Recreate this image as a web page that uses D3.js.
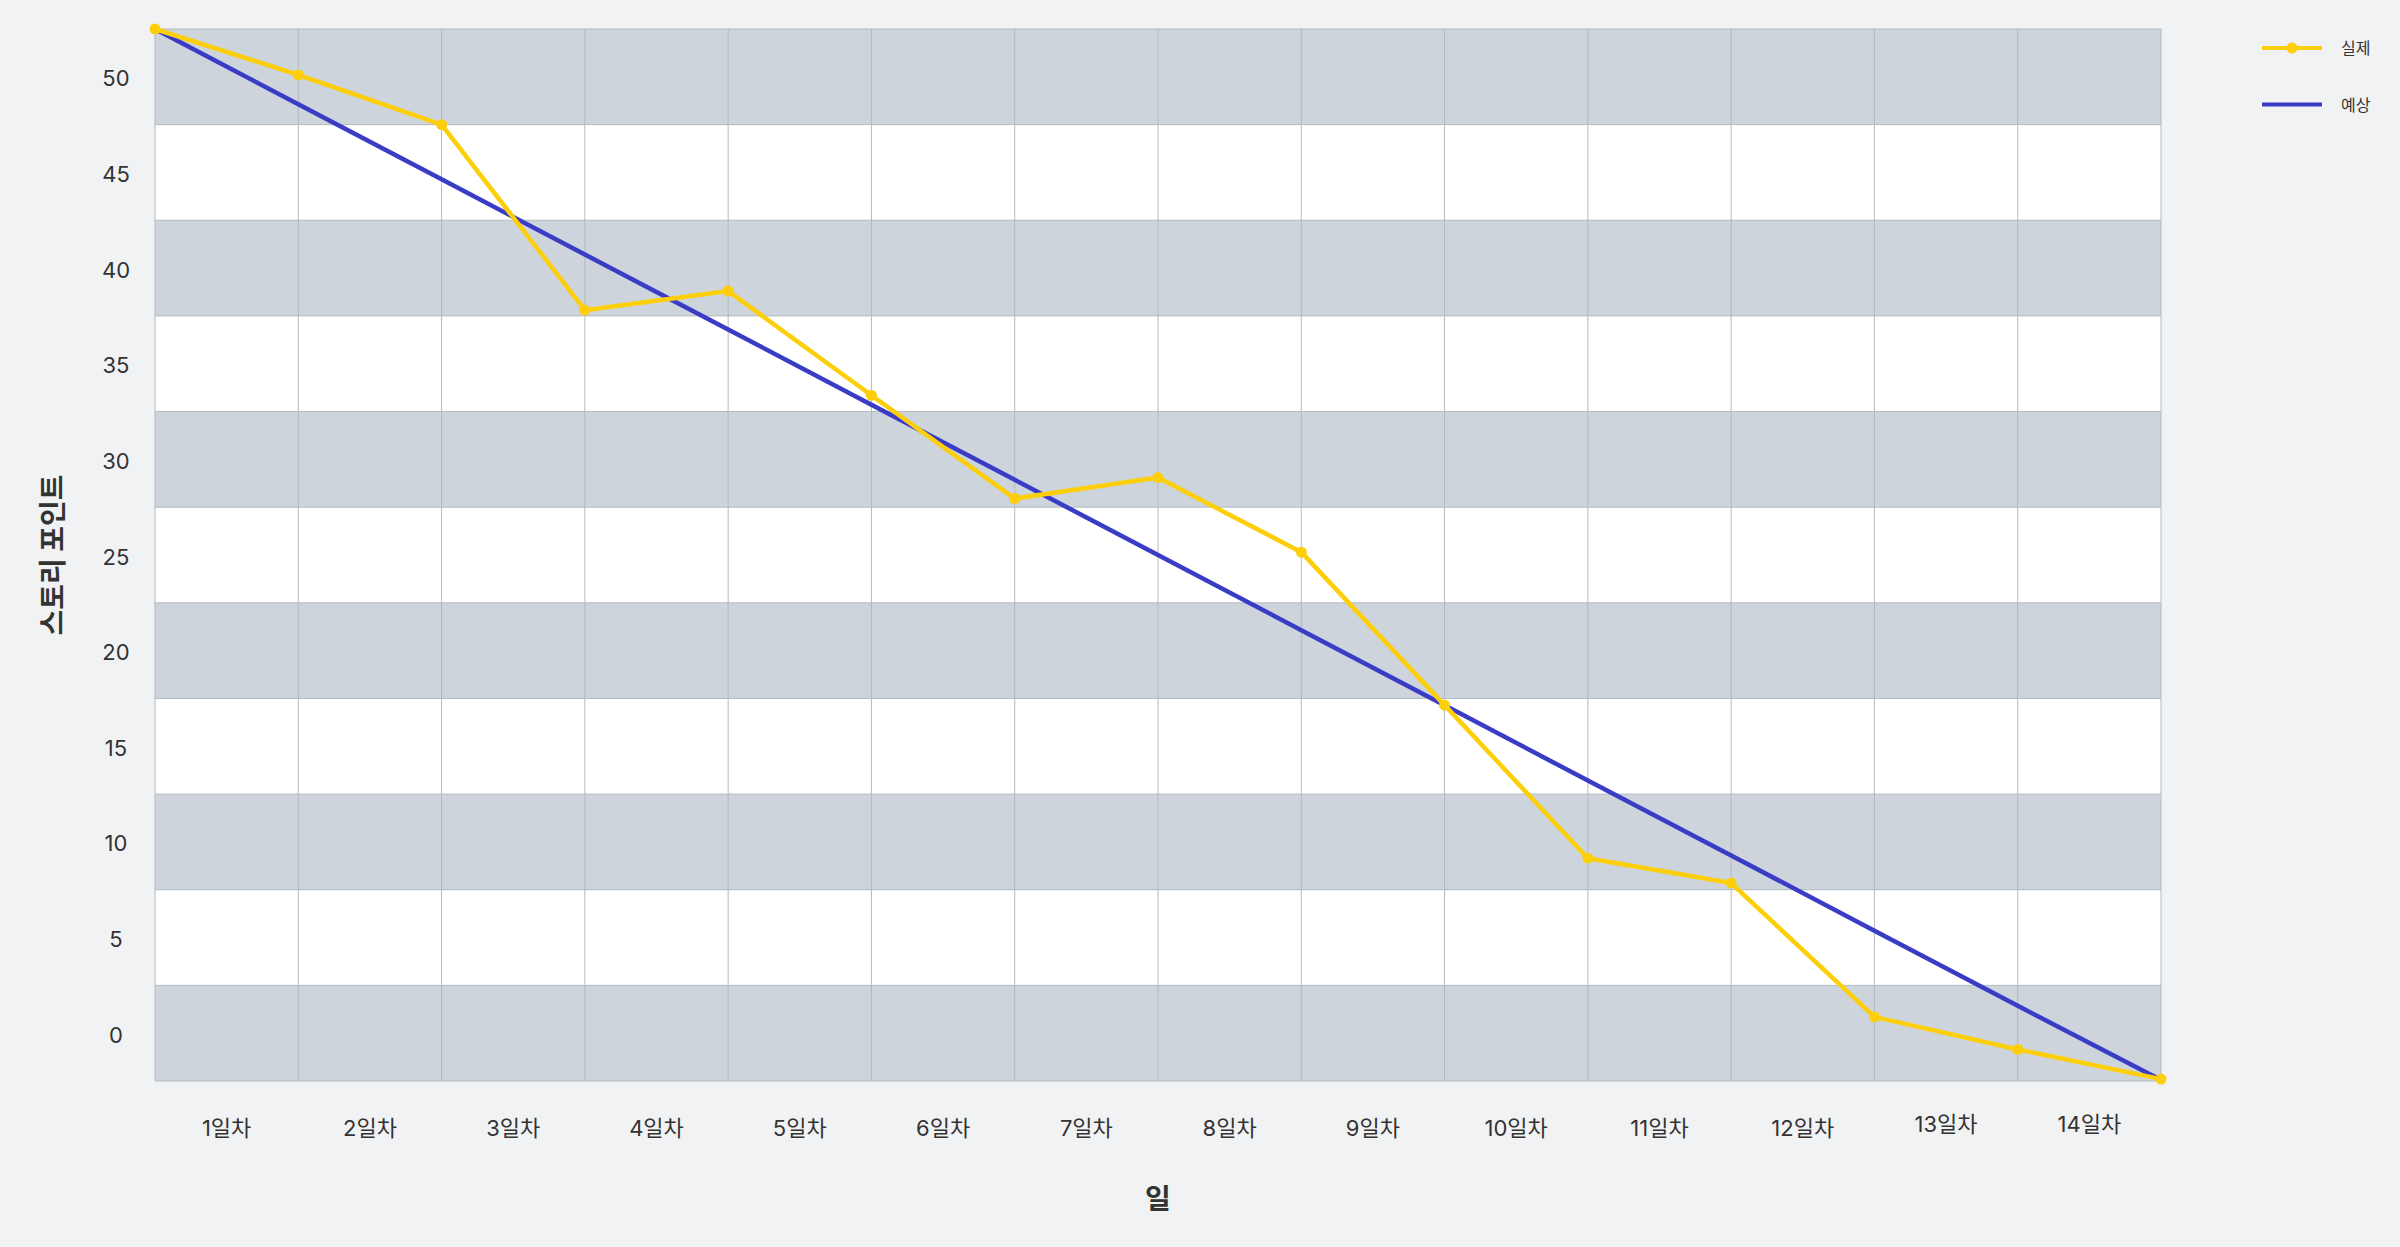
<!DOCTYPE html>
<html lang="ko">
<head>
<meta charset="utf-8">
<script src="https://cdn.jsdelivr.net/npm/d3@7"></script>
<style>
  body { margin: 0; background: #f1f2f4; }
  svg text { font-family: Inter, "Noto Sans CJK KR", sans-serif; fill: #333; }
</style>
</head>
<body>
<svg id="chart" width="2400" height="1247"></svg>
<script>
// day columns, points sit on the column edges (15 of them)
const days = ["1일차", "2일차", "3일차", "4일차", "5일차", "6일차", "7일차",
              "8일차", "9일차", "10일차", "11일차", "12일차", "13일차", "14일차"];
const actual = [52.5, 50.1, 47.5, 37.8, 38.8, 33.35, 27.95, 29.05, 25.15, 17.15, 9.15, 7.85, 0.85, -0.85, -2.4];
const expected = [52.5, 48.57, 44.64, 40.71, 36.79, 32.86, 28.93, 25.0, 21.07, 17.14, 13.21, 9.29, 5.36, 1.43, -2.45];
const yTicks = [0, 5, 10, 15, 20, 25, 30, 35, 40, 45, 50];
const seriesNames = ["실제", "예상"];

const width = 2400, height = 1247
const margin = {top: 29, right: 239, bottom: 166, left: 155}
const gray = "#cdd4dc", gridColor = "#b3babe"
const yellow = "#fccf0a", blue = "#3a3cc6"

const svg = d3.select("#chart")

const x = d3.scaleLinear()
  .domain([0, days.length])
  .range([margin.left, width - margin.right])

const y = d3.scaleLinear()
  .domain([-2.5, 52.5])
  .range([height - margin.bottom, margin.top])

// alternating bands, one per tick value
const half = 2.5
svg.append("g")
  .selectAll("rect")
  .data(yTicks)
  .join("rect")
    .attr("x", x(0))
    .attr("width", x(days.length) - x(0))
    .attr("y", d => y(d + half))
    .attr("height", d => y(d - half) - y(d + half))
    .attr("fill", (d, i) => i % 2 == 0 ? gray : "#ffffff")

// grid
const grid = svg.append("g").attr("stroke", gridColor).attr("stroke-width", 1)
grid.selectAll("line.h")
  .data(yTicks.map(d => d - half).concat([yTicks[yTicks.length - 1] + half]))
  .join("line")
    .attr("class", "h")
    .attr("x1", x(0)).attr("x2", x(days.length))
    .attr("y1", d => y(d)).attr("y2", d => y(d))
grid.selectAll("line.v")
  .data(d3.range(days.length + 1))
  .join("line")
    .attr("class", "v")
    .attr("x1", d => x(d)).attr("x2", d => x(d))
    .attr("y1", y(52.5)).attr("y2", y(-2.5))

// y tick labels
svg.append("g")
  .selectAll("text")
  .data(yTicks)
  .join("text")
    .attr("x", 116)
    .attr("y", d => y(d) + 1.5)
    .attr("text-anchor", "middle")
    .attr("dominant-baseline", "central")
    .attr("font-size", 22)
    .text(d => d)

// x tick labels, centred in each column
svg.append("g")
  .selectAll("text")
  .data(days)
  .join("text")
    .attr("x", (d, i) => x(i + 0.5))
    .attr("y", (d, i) => i >= 12 ? 1124 : 1128)
    .attr("text-anchor", "middle")
    .attr("dominant-baseline", "central")
    .attr("font-size", 22)
    .text(d => d)

// axis titles
svg.append("text")
  .attr("transform", `translate(53,${(y(52.5) + y(-2.5)) / 2}) rotate(-90)`)
  .attr("text-anchor", "middle")
  .attr("dominant-baseline", "central")
  .attr("font-size", 28)
  .attr("font-weight", "bold")
  .text("스토리 포인트")

svg.append("text")
  .attr("x", (x(0) + x(days.length)) / 2)
  .attr("y", 1199)
  .attr("text-anchor", "middle")
  .attr("dominant-baseline", "central")
  .attr("font-size", 28)
  .attr("font-weight", "bold")
  .text("일")

// lines: expected under actual
const line = d3.line().x((d, i) => x(i)).y(d => y(d))

svg.append("path")
  .datum(expected)
  .attr("fill", "none")
  .attr("stroke", blue)
  .attr("stroke-width", 4.5)
  .attr("d", line)

svg.append("path")
  .datum(actual)
  .attr("fill", "none")
  .attr("stroke", yellow)
  .attr("stroke-width", 4.5)
  .attr("stroke-linejoin", "round")
  .attr("d", line)

svg.append("g")
  .selectAll("circle")
  .data(actual)
  .join("circle")
    .attr("cx", (d, i) => x(i))
    .attr("cy", d => y(d))
    .attr("r", 5.5)
    .attr("fill", yellow)

// legend
const legend = svg.append("g").attr("transform", "translate(2262,48)")
const items = legend.selectAll("g")
  .data([{name: seriesNames[0], color: yellow, dot: true}, {name: seriesNames[1], color: blue, dot: false}])
  .join("g")
    .attr("transform", (d, i) => `translate(0,${i * 56.5})`)
items.append("line")
  .attr("x1", 0).attr("x2", 60)
  .attr("stroke", d => d.color)
  .attr("stroke-width", 4)
items.filter(d => d.dot).append("circle")
  .attr("cx", 30).attr("r", 5.5)
  .attr("fill", d => d.color)
items.append("text")
  .attr("x", 79)
  .attr("dominant-baseline", "central")
  .attr("font-size", 16)
  .text(d => d.name)
</script>
</body>
</html>
